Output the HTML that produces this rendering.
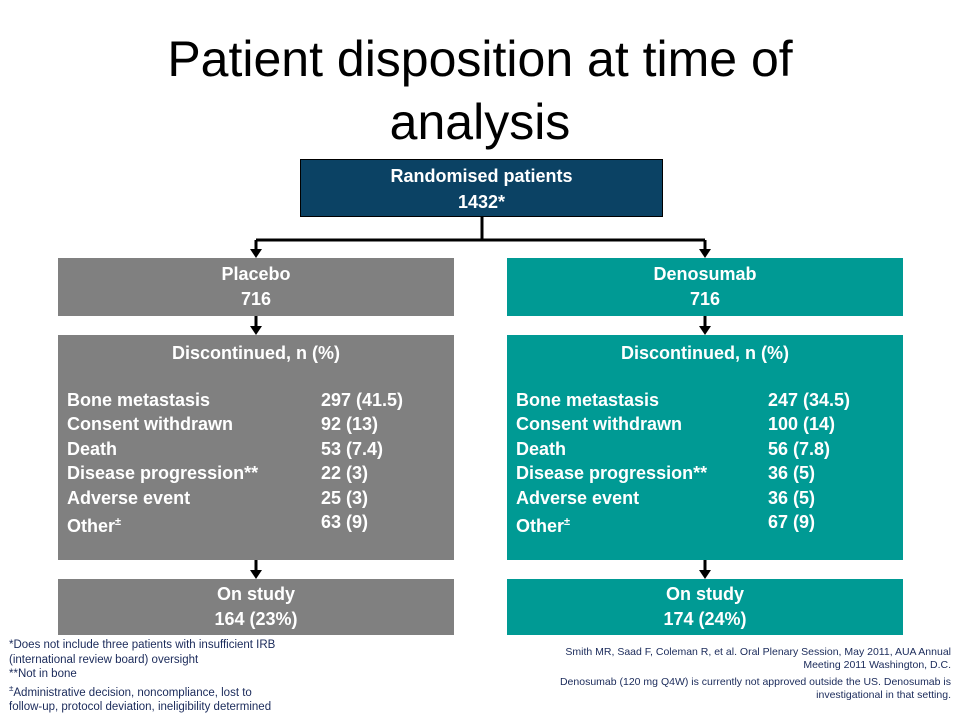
<!DOCTYPE html>
<html><head><meta charset="utf-8"><style>
body{margin:0;width:960px;height:720px;background:#fff;font-family:"Liberation Sans",Arial,sans-serif;position:relative;overflow:hidden}
.a{position:absolute}
.box{position:absolute;color:#fff;font-weight:bold;font-size:18px;text-align:center;box-sizing:border-box}
.g{background:#808080}.t{background:#009a94}
.row{position:absolute;font-weight:bold;font-size:18px;color:#fff;white-space:nowrap}
.fn{position:absolute;font-size:11.5px;color:#1a2a5a;line-height:14.5px}
</style></head><body>
<div class="a" style="left:0;top:28px;width:960px;text-align:center;font-size:50px;line-height:63px;color:#000">Patient disposition at time of<br>analysis</div>

<div class="box" style="left:300px;top:159px;width:363px;height:58px;background:#0b4264;border:1px solid #000;line-height:26px;padding-top:3px">Randomised patients<br>1432*</div>

<svg class="a" style="left:0;top:0" width="960" height="720">
<g stroke="#000" stroke-width="3" fill="none">
<line x1="482" y1="217" x2="482" y2="240"/>
<line x1="256" y1="240" x2="705" y2="240"/>
<line x1="256" y1="240" x2="256" y2="250"/>
<line x1="705" y1="240" x2="705" y2="250"/>
<line x1="256" y1="316" x2="256" y2="327"/>
<line x1="705" y1="316" x2="705" y2="327"/>
<line x1="256" y1="560" x2="256" y2="571"/>
<line x1="705" y1="560" x2="705" y2="571"/>
</g>
<g fill="#000">
<polygon points="250,249 262,249 256,258"/><polygon points="699,249 711,249 705,258"/>
<polygon points="250,326 262,326 256,335"/><polygon points="699,326 711,326 705,335"/>
<polygon points="250,570 262,570 256,579"/><polygon points="699,570 711,570 705,579"/>
</g></svg>

<div class="box g" style="left:58px;top:258px;width:396px;height:58px;line-height:25px;padding-top:4px">Placebo<br>716</div>
<div class="box t" style="left:507px;top:258px;width:396px;height:58px;line-height:25px;padding-top:4px">Denosumab<br>716</div>

<div class="box g" style="left:58px;top:335px;width:396px;height:225px;line-height:24px;padding-top:6px">Discontinued, n (%)</div>
<div class="box t" style="left:507px;top:335px;width:396px;height:225px;line-height:24px;padding-top:6px">Discontinued, n (%)</div>

<div class="row" style="left:67px;top:388px;line-height:24.4px">Bone metastasis<br>Consent withdrawn<br>Death<br>Disease progression**<br>Adverse event<br>Other<sup style="font-size:11px">±</sup></div>
<div class="row" style="left:321px;top:388px;line-height:24.4px">297 (41.5)<br>92 (13)<br>53 (7.4)<br>22 (3)<br>25 (3)<br>63 (9)</div>
<div class="row" style="left:516px;top:388px;line-height:24.4px">Bone metastasis<br>Consent withdrawn<br>Death<br>Disease progression**<br>Adverse event<br>Other<sup style="font-size:11px">±</sup></div>
<div class="row" style="left:768px;top:388px;line-height:24.4px">247 (34.5)<br>100 (14)<br>56 (7.8)<br>36 (5)<br>36 (5)<br>67 (9)</div>

<div class="box g" style="left:58px;top:579px;width:396px;height:56px;line-height:25px;padding-top:3px">On study<br>164 (23%)</div>
<div class="box t" style="left:507px;top:579px;width:396px;height:56px;line-height:25px;padding-top:3px">On study<br>174 (24%)</div>

<div class="fn" style="left:9px;top:638px;width:270px">*Does not include three patients with insufficient IRB (international review board) oversight<br>**Not in bone<br><sup style="font-size:8px">±</sup>Administrative decision, noncompliance, lost to follow-up, protocol deviation, ineligibility determined</div>
<div class="fn" style="left:530px;top:646px;width:421px;text-align:right;font-size:10.5px;line-height:12.5px">Smith MR, Saad F, Coleman R, et al. Oral Plenary Session, May 2011, AUA Annual Meeting 2011 Washington, D.C.<div style="margin-top:5px">Denosumab (120 mg Q4W) is currently not approved outside the US. Denosumab is investigational in that setting.</div></div>
</body></html>
